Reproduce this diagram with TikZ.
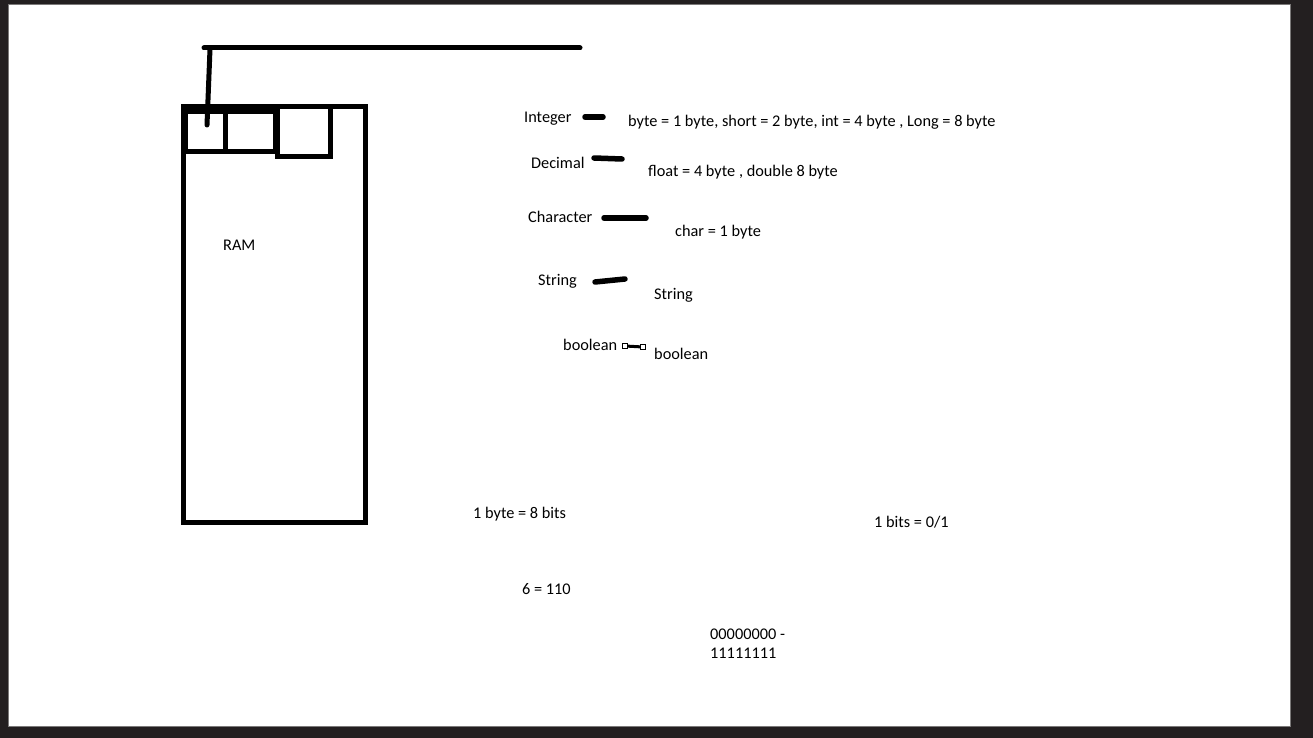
\documentclass[tikz,border=0pt]{standalone}
\usepackage{fontspec}
\setmainfont{Carlito}
\definecolor{frame}{RGB}{35,31,32}
\tikzset{
  lbl/.style={anchor=west, inner sep=0pt, yshift=-1.5pt, font=\fontsize{16.3}{19}\selectfont},
  pen/.style={line width=5pt, line cap=round},
  boxline/.style={line width=5pt},
  tick/.style={line width=5.5pt, line cap=round},
  handle/.style={draw=black, fill=white, line width=1pt, minimum size=5pt, inner sep=0pt},
}
\begin{document}
\begin{tikzpicture}[x=1pt,y=-1pt]
\useasboundingbox (0,0) rectangle (1313,738);
\fill[frame] (0,0) rectangle (1313,738);
\fill[white] (8,5) rectangle (1290,726);
\draw[frame!60!white, line width=1pt] (8,5) rectangle (1290,726);

% RAM box
\draw[boxline] (183,106.5) rectangle (365.5,522);
\draw[boxline] (185,111.5) rectangle (275.5,152);
\draw[boxline] (225.5,111.5) -- (225.5,152);
\draw[boxline] (277.5,106.5) rectangle (330,157);
\node[lbl] (ram) at (223,244) {RAM};

% pointer line
\coordinate (h1) at (204,48);
\coordinate (h2) at (580,48);
\coordinate (v1) at (210,49);
\coordinate (v2) at (207,125);
\draw[pen] (h1) -- (h2);
\draw[pen] (v1) -- (v2);

% type labels
\node[lbl] (int) at (524,117) {Integer};
\node[lbl] (intd) at (628,121) {byte = 1 byte, short = 2 byte, int = 4 byte , Long = 8 byte};
\node[lbl] (dec) at (531,161) {Decimal};
\node[lbl] (decd) at (648,171) {float = 4 byte , double 8 byte};
\node[lbl] (chr) at (528,215) {Character};
\node[lbl] (chrd) at (675,231) {char = 1 byte};
\node[lbl] (str) at (538,280) {String};
\node[lbl] (strd) at (654,294) {String};
\node[lbl] (bool) at (563,343) {boolean};
\node[lbl] (boold) at (654,352) {boolean};

% dashes
\coordinate (a1) at (585,117); \coordinate (a2) at (603,117);
\coordinate (b1) at (594,158); \coordinate (b2) at (622,159);
\coordinate (c1) at (604,218); \coordinate (c2) at (646,218);
\coordinate (d1) at (595,282); \coordinate (d2) at (625,279);
\draw[tick] (a1) -- (a2);
\draw[tick] (b1) -- (b2);
\draw[tick] (c1) -- (c2);
\draw[tick] (d1) -- (d2);
\node[handle] (e1) at (625,346) {};
\node[handle] (e2) at (643,347) {};
\draw[line width=3pt] (e1) -- (e2);

% bottom texts
\node[lbl] (byte) at (473,513) {1 byte = 8 bits};
\node[lbl] (bits) at (874,521) {1 bits = 0/1};
\node[lbl] (six) at (522,588) {6 = 110};
\node[lbl, align=left, font=\fontsize{16.3}{19.5}\selectfont] (range) at (710,642) {00000000 -\\11111111};
\end{tikzpicture}
\end{document}
